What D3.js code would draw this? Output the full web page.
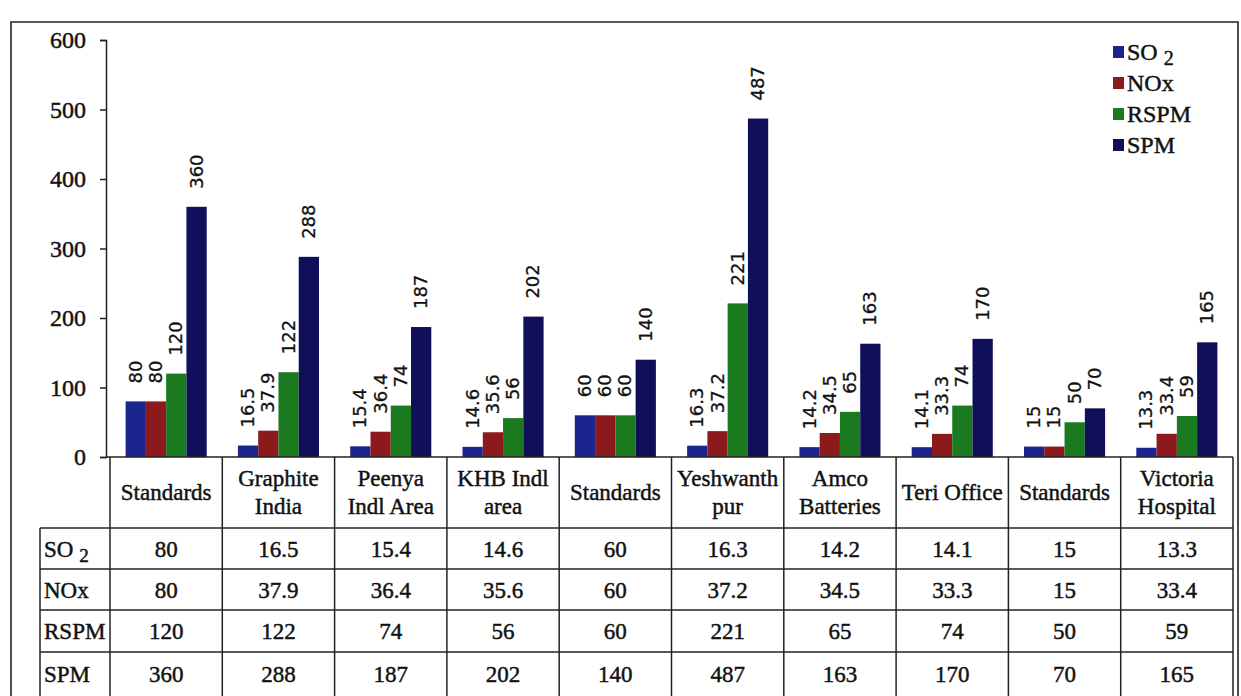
<!DOCTYPE html>
<html><head><meta charset="utf-8">
<script src="https://cdn.jsdelivr.net/npm/d3@7"></script>
<style>
html,body{margin:0;padding:0;background:#fff;}
svg{display:block;}
</style></head>
<body>
<svg id="c" width="1241" height="696"></svg>
<script>
const categories = ["Standards","Graphite\nIndia","Peenya\nIndl Area","KHB Indl\narea","Standards","Yeshwanth\npur","Amco\nBatteries","Teri Office","Standards","Victoria\nHospital"];
const seriesNames = ["SO2","NOx","RSPM","SPM"];
const so2  = [80,16.5,15.4,14.6,60,16.3,14.2,14.1,15,13.3];
const nox  = [80,37.9,36.4,35.6,60,37.2,34.5,33.3,15,33.4];
const rspm = [120,122,74,56,60,221,65,74,50,59];
const spm  = [360,288,187,202,140,487,163,170,70,165];
const yTicks = [0,100,200,300,400,500,600];
const colors = ["#1a2590","#8c1a1c","#1b7a20","#0f0f5a"];

const seriesVals = [so2,nox,rspm,spm];
const svg = d3.select("#c");
const serif = "'Liberation Serif','Times New Roman',serif";
const sans = "'DejaVu Sans',sans-serif";
const heavy = sel => sel.attr("stroke","#111").attr("stroke-width",0.45).attr("paint-order","stroke");

const plotL = 110, plotR = 1233, y0 = 457, yTop = 40;
const x0 = d3.scaleBand().domain(d3.range(categories.length)).range([plotL, plotR]).paddingInner(0).paddingOuter(0);
const x1 = d3.scaleBand().domain(d3.range(4)).range([0, x0.bandwidth()]).paddingInner(0).paddingOuter(0.77);
const y = d3.scaleLinear().domain([0,600]).range([y0, yTop]);

// outer frame
svg.append("path").attr("d","M11,696 L11,22 L1238,22 L1238,696").attr("fill","none").attr("stroke","#222").attr("stroke-width",1.6);

// y axis
const yAxis = d3.axisLeft(y).tickValues(yTicks).tickSize(6).tickPadding(14).tickFormat(d3.format("d"));
const ga = svg.append("g").attr("transform",`translate(106,0)`).call(yAxis);
ga.select(".domain").attr("stroke","#222").attr("stroke-width",1.5);
ga.selectAll(".tick line").attr("stroke","#222").attr("stroke-width",1.5);
ga.selectAll("text").attr("font-family",serif).attr("font-size",24).attr("fill","#111").call(heavy);

// bars
const groups = svg.append("g").selectAll("g").data(categories).join("g")
  .attr("transform",(d,i)=>`translate(${x0(i)},0)`);
groups.each(function(cat,i){
  const g = d3.select(this);
  seriesVals.forEach((vals,s)=>{
    const v = vals[i];
    g.append("rect").attr("x",x1(s)).attr("width",x1.bandwidth()).attr("y",y(v)).attr("height",y0-y(v)).attr("fill",colors[s]);
    const cx = x1(s)+x1.bandwidth()/2;
    g.append("text").attr("transform",`translate(${cx+6},${y(v)-18}) rotate(-90)`)
      .attr("font-family",sans).attr("font-size",18).attr("fill","#111")
      .attr("stroke","#111").attr("stroke-width",0.3)
      .text(String(v));
  });
});

// legend
const leg = svg.append("g");
seriesNames.forEach((n,s)=>{
  const cy = 52 + s*31;
  leg.append("rect").attr("x",1113).attr("y",cy-6).attr("width",11).attr("height",12).attr("fill",colors[s]);
  const t = leg.append("text").attr("x",1127).attr("y",cy+8).attr("font-family",serif).attr("font-size",24).attr("fill","#111").call(heavy);
  if(n==="SO2"){ t.append("tspan").text("SO "); t.append("tspan").attr("font-size",20).attr("dy",5).text("2"); }
  else t.text(n);
});

// table
const rowLines = [528,569,610,652,696];
const labL = 40;
const tg = svg.append("g").attr("stroke","#222").attr("stroke-width",1.5);
tg.append("line").attr("x1",106).attr("x2",plotR).attr("y1",y0).attr("y2",y0);
rowLines.slice(0,4).forEach((ly)=>{
  tg.append("line").attr("x1",labL).attr("x2",plotR).attr("y1",ly).attr("y2",ly);
});
d3.range(categories.length+1).forEach(i=>{
  const xx = i<categories.length ? x0(i) : plotR;
  tg.append("line").attr("x1",xx).attr("x2",xx).attr("y1",y0).attr("y2",696);
});
tg.append("line").attr("x1",labL).attr("x2",labL).attr("y1",rowLines[0]).attr("y2",696);

// header labels
categories.forEach((c,i)=>{
  const lines = c.split("\n");
  const cx = x0(i)+x0.bandwidth()/2;
  const t = svg.append("text").attr("text-anchor","middle").attr("font-family",serif).attr("font-size",23).attr("fill","#111").call(heavy);
  if(lines.length===1){
    t.append("tspan").attr("x",cx).attr("y",500).text(lines[0]);
  } else {
    t.append("tspan").attr("x",cx).attr("y",486).text(lines[0]);
    t.append("tspan").attr("x",cx).attr("y",514).text(lines[1]);
  }
});
// row labels and values
seriesNames.forEach((n,s)=>{
  const cy = (rowLines[s]+rowLines[s+1])/2 + 8;
  const t = svg.append("text").attr("x",labL+4).attr("y",cy).attr("font-family",serif).attr("font-size",23).attr("fill","#111").call(heavy);
  if(n==="SO2"){ t.append("tspan").text("SO "); t.append("tspan").attr("font-size",19).attr("dy",5).text("2"); }
  else t.text(n);
  seriesVals[s].forEach((v,i)=>{
    svg.append("text").attr("x",x0(i)+x0.bandwidth()/2).attr("y",cy).attr("text-anchor","middle")
      .attr("font-family",serif).attr("font-size",23).attr("fill","#111").call(heavy).text(String(v));
  });
});
</script>
</body></html>
